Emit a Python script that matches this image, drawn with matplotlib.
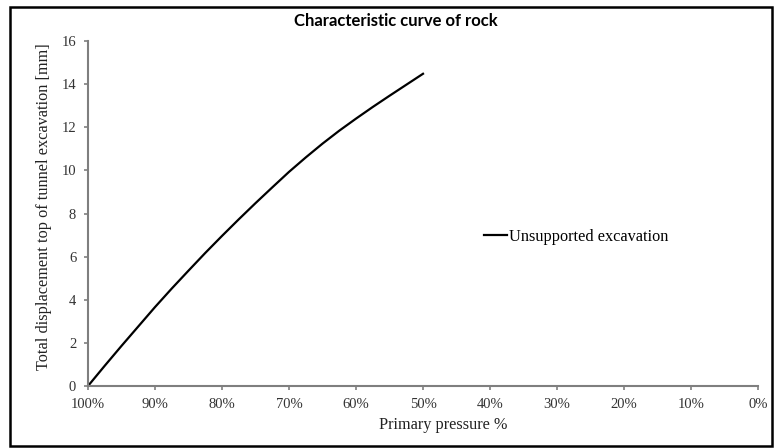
import matplotlib
matplotlib.use("Agg")
import matplotlib.pyplot as plt
import matplotlib.ticker as ticker
from matplotlib.patches import Rectangle

# primary pressure in %, total displacement in mm
pressure = [100, 97.5, 95, 92.5, 90, 87.5, 85, 82.5, 80, 77.5, 75,
            72.5, 70, 67.5, 65, 62.5, 60, 57.5, 55, 52.5, 50]
displacement = [0.0, 0.94, 1.86, 2.76, 3.66, 4.52, 5.35, 6.17, 6.96, 7.73, 8.48,
                9.21, 9.93, 10.6, 11.24, 11.84, 12.4, 12.94, 13.46, 13.97, 14.48]

x_ticks = [100, 90, 80, 70, 60, 50, 40, 30, 20, 10, 0]
y_ticks = [0, 2, 4, 6, 8, 10, 12, 14, 16]

serif = "Liberation Serif"
axis_grey = "#7f7f7f"

fig = plt.figure(figsize=(7.76, 4.48), dpi=100)
ax = fig.add_axes([88 / 776, 1 - 386 / 448, (758 - 88) / 776, (386 - 41) / 448])

ax.plot(pressure, displacement, color="black", linewidth=1.6,
        solid_joinstyle="round", label="Unsupported excavation")

ax.set_xlim(100, 0)
ax.set_ylim(0, 16)
ax.set_xticks(x_ticks)
ax.set_yticks(y_ticks)
ax.xaxis.set_major_formatter(ticker.FuncFormatter(lambda v, p: f"{v:.0f}%"))

for side in ["top", "right"]:
    ax.spines[side].set_visible(False)
for side in ["left", "bottom"]:
    ax.spines[side].set_color(axis_grey)
    ax.spines[side].set_linewidth(1.5)

ax.tick_params(direction="out", length=3, width=1.2, color=axis_grey,
               labelsize=10.5, labelcolor="#333333", pad=5.5)
for lbl in ax.get_xticklabels() + ax.get_yticklabels():
    lbl.set_fontfamily(serif)

ax.set_xlabel("Primary pressure %", family=serif, fontsize=11.7,
              color="#222222")
ax.xaxis.set_label_coords(0.53, -0.09)
ax.set_ylabel("Total displacement top of tunnel excavation [mm]", family=serif,
              fontsize=11.7, color="#222222")
ax.yaxis.set_label_coords(-0.053, 0.52)

fig.text(396 / 776, 1 - 21 / 448, "Characteristic curve of rock", ha="center",
         va="center", family="Lato", fontweight="bold", fontsize=12)

ax.legend(loc="center left", bbox_to_anchor=(484 / 776, 1 - 237 / 448),
          bbox_transform=fig.transFigure, frameon=False, borderpad=0,
          borderaxespad=0, handlelength=1.4, handletextpad=0.15,
          prop={"family": serif, "size": 11.7})

# outer chart frame
fig.patches.append(Rectangle((10 / 776, 2 / 448), 762 / 776, 439 / 448,
                             transform=fig.transFigure, fill=False,
                             edgecolor="black", linewidth=1.8))

fig.savefig("out.png", dpi=100)
